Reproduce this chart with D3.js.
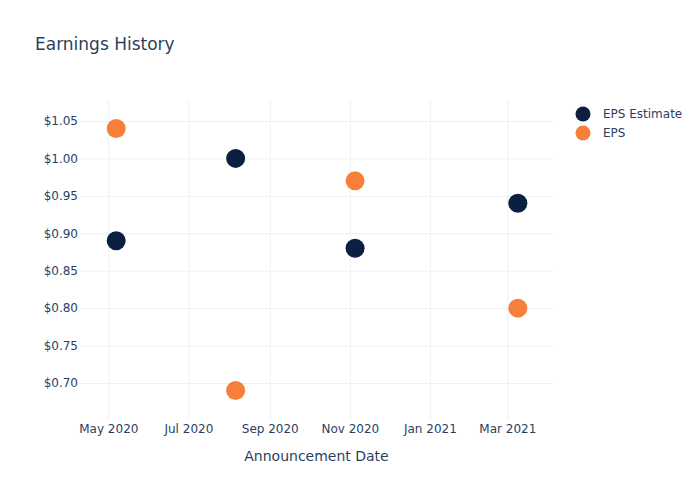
<!DOCTYPE html>
<html><head><meta charset="utf-8">
<script src="https://cdn.jsdelivr.net/npm/d3@7"></script>
<style>body{margin:0;background:#fff}text{font-family:"DejaVu Sans",sans-serif}</style>
</head><body><svg id="c" width="700" height="500"></svg>
<script>
const dates = ["2020-05-07","2020-08-06","2020-11-05","2021-03-09"];
const epsEstimate = [0.89, 1.00, 0.88, 0.94];
const eps = [1.04, 0.69, 0.97, 0.80];
const yTicks = [0.70,0.75,0.80,0.85,0.90,0.95,1.00,1.05];
const xTicks = ["2020-05-01","2020-07-01","2020-09-01","2020-11-01","2021-01-01","2021-03-01"];
const seriesNames = ["EPS Estimate","EPS"];
const colors = ["#0b1f41","#f68039"];

const svg = d3.select("#c");
const L=80,R=553,T=100,B=420;
const parse = d3.utcParse("%Y-%m-%d");
const x = d3.scaleUtc().domain([new Date(Date.UTC(2020,3,9,10)), new Date(Date.UTC(2021,3,4,19))]).range([L,R]);
const y = d3.scaleLinear().domain([0.6506,1.078]).range([B,T]);
const txt="#2a3f5f", grid="#ebf0f8";

svg.append("g").attr("transform",`translate(0,${B})`)
  .call(d3.axisBottom(x).tickValues(xTicks.map(parse)).tickSize(-(B-T)).tickFormat(d3.utcFormat("%b %Y")))
  .call(g=>{g.select(".domain").remove();g.selectAll("line").attr("stroke",grid);
    g.selectAll("text").attr("fill",txt).attr("font-size",12).attr("dy",0).attr("y",13);});
svg.append("g").attr("transform",`translate(${L},0)`)
  .call(d3.axisLeft(y).tickValues(yTicks).tickSize(-(R-L)).tickFormat(d=>"$"+d3.format(".2f")(d)))
  .call(g=>{g.select(".domain").remove();g.selectAll("line").attr("stroke",grid);
    g.selectAll("text").attr("fill",txt).attr("font-size",12).attr("x",-2);});

const series=[epsEstimate,eps];
series.forEach((vals,i)=>{
  svg.append("g").selectAll("circle").data(vals).join("circle")
    .attr("cx",(d,j)=>x(parse(dates[j]))).attr("cy",d=>y(d)).attr("r",9.5)
    .attr("fill",colors[i]);
});

svg.append("text").attr("x",35).attr("y",50).attr("fill",txt).attr("font-size",17).text("Earnings History");
svg.append("text").attr("x",(L+R)/2).attr("y",461).attr("text-anchor","middle").attr("fill",txt).attr("font-size",14).text("Announcement Date");

const lg=svg.append("g");
seriesNames.forEach((n,i)=>{
  lg.append("circle").attr("cx",583).attr("cy",114+i*19).attr("r",7.5).attr("fill",colors[i]);
  lg.append("text").attr("x",603).attr("y",118+i*19).attr("fill",txt).attr("font-size",12).text(n);
});
</script></body></html>
